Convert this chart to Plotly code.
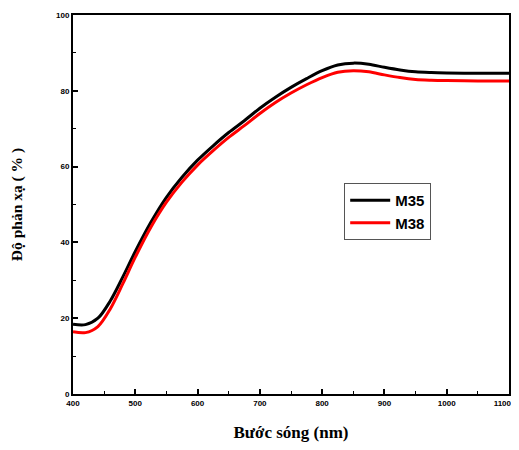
import plotly.graph_objects as go

wavelength = [400, 420, 440, 460, 480, 500, 525, 550, 575, 600, 625, 650, 675, 700,
              725, 750, 775, 800, 825, 850, 875, 900, 925, 950, 975, 1000, 1050, 1100]
m35 = [18.4, 18.3, 20.0, 24.6, 30.9, 37.6, 45.3, 51.9, 57.2, 61.7, 65.5, 69.0, 72.1, 75.4,
       78.3, 80.9, 83.2, 85.3, 86.8, 87.3, 87.0, 86.2, 85.5, 85.0, 84.8, 84.7, 84.6, 84.6]
m38 = [16.4, 16.2, 17.8, 22.5, 29.1, 36.1, 44.0, 50.6, 55.9, 60.4, 64.2, 67.7, 70.8, 74.0,
       76.9, 79.4, 81.6, 83.5, 84.9, 85.3, 85.0, 84.2, 83.5, 83.0, 82.8, 82.7, 82.6, 82.6]

x_ticks = [400, 500, 600, 700, 800, 900, 1000, 1100]
y_ticks = [0, 20, 40, 60, 80, 100]
# last label padded with figure spaces so it stays inside the window edge
x_ticktext = [str(v) for v in x_ticks[:-1]] + [str(x_ticks[-1]) + "\u2007\u2007\u2007"]

fig = go.Figure()
fig.add_trace(go.Scatter(x=wavelength, y=m35, mode="lines", name="M35",
                         line=dict(color="black", width=3, shape="spline", smoothing=0.9)))
fig.add_trace(go.Scatter(x=wavelength, y=m38, mode="lines", name="M38",
                         line=dict(color="#ff0000", width=3, shape="spline", smoothing=0.9)))

tickfont = dict(family="Arial", size=8, color="black", weight="bold")
ytitlefont = dict(family="Times New Roman, Liberation Serif", size=15.5, color="black", weight="bold")
xtitlefont = dict(family="Times New Roman, Liberation Serif", size=17, color="black", weight="bold")

fig.update_layout(
    width=503, height=434,
    margin=dict(l=65, r=2, t=7, b=48, autoexpand=False),
    paper_bgcolor="white", plot_bgcolor="white",
    showlegend=True,
    legend=dict(x=0.622, y=0.557, xanchor="left", yanchor="top",
                bordercolor="#555555", borderwidth=1, bgcolor="white",
                font=dict(family="Arial", size=15, color="black", weight="bold"),
                itemwidth=40, tracegroupgap=0),
    xaxis=dict(range=[400, 1100], tickvals=x_ticks, ticktext=x_ticktext,
               ticks="inside", ticklen=5, tickwidth=1.5,
               tickcolor="black", showline=True, linecolor="black", linewidth=2, mirror=True,
               showgrid=False, zeroline=False, tickfont=tickfont, automargin=False,
               ticklabeloverflow="allow",
               minor=dict(dtick=50, ticks="inside", ticklen=3, tickcolor="black", tickwidth=1),
               title=dict(text="Bước sóng (nm)", font=xtitlefont, standoff=24)),
    yaxis=dict(range=[0, 100], tickvals=y_ticks, ticks="inside", ticklen=5, tickwidth=1.5,
               tickcolor="black", showline=True, linecolor="black", linewidth=2, mirror=True,
               showgrid=False, zeroline=False, tickfont=tickfont, automargin=False,
               minor=dict(dtick=10, ticks="inside", ticklen=3, tickcolor="black", tickwidth=1),
               title=dict(text="Độ phản xạ ( % )", font=ytitlefont, standoff=30)),
)

fig.write_html("out.html")
